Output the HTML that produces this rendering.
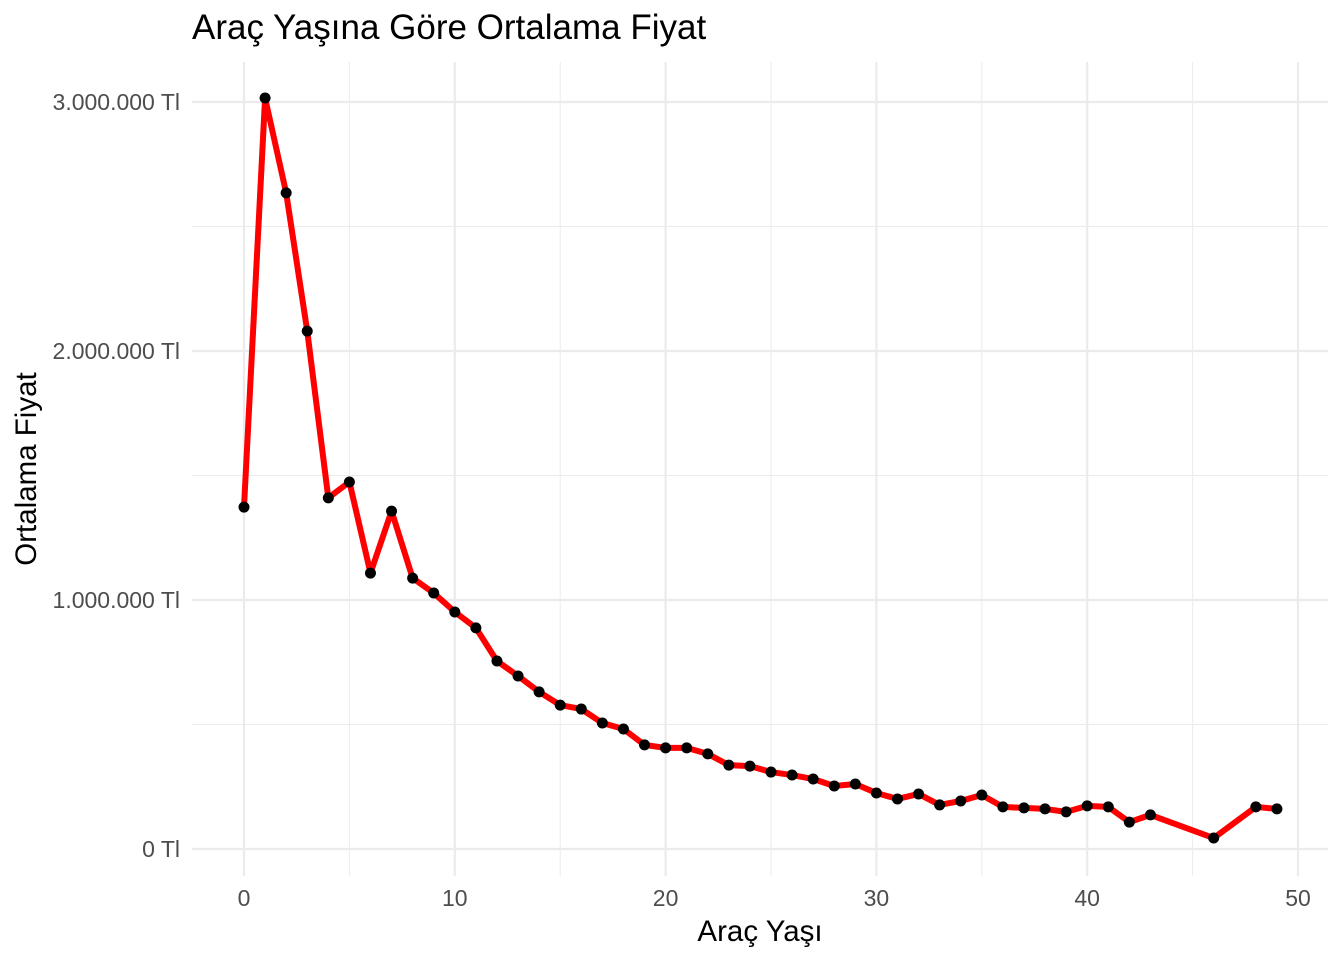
<!DOCTYPE html>
<html><head><meta charset="utf-8"><style>
body{margin:0;background:#fff;}
text{font-family:"Liberation Sans",Arial,sans-serif;}
</style></head><body>
<svg id="chart" width="1344" height="960" xmlns="http://www.w3.org/2000/svg">
<text x="192" y="39" font-size="35" fill="#000">Araç Yaşına Göre Ortalama Fiyat</text>
<g id="grid"></g>
<g id="axes"></g>
<g id="marks"></g>
<text x="760" y="941" font-size="29.5" text-anchor="middle" fill="#000">Araç Yaşı</text>
<text transform="translate(36,469) rotate(-90)" font-size="29.5" text-anchor="middle" fill="#000">Ortalama Fiyat</text>
</svg>
<script>
const ages=[0,1,2,3,4,5,6,7,8,9,10,11,12,13,14,15,16,17,18,19,20,21,22,23,24,25,26,27,28,29,30,31,32,33,34,35,36,37,38,39,40,41,42,43,46,48,49];
const prices=[1373000,3016000,2635000,2080000,1410000,1474000,1108000,1357000,1088000,1028000,952000,888000,755000,695000,631000,578000,562000,506000,482000,418000,406000,406000,382000,337000,333000,309000,297000,281000,253000,261000,225000,201000,221000,177000,193000,217000,169000,165000,161000,149000,173000,169000,108000,137000,44000,169000,161000];
const xTicks=[0,10,20,30,40,50];
const xMinor=[5,15,25,35,45];
const yTicks=[0,1000000,2000000,3000000];
const yTickLabels=["0 Tl","1.000.000 Tl","2.000.000 Tl","3.000.000 Tl"];
const yMinor=[500000,1500000,2500000];
const NS="http://www.w3.org/2000/svg";
const X=v=>244+v*(1298-244)/50;
const Y=v=>849-v*(849-102)/3000000;
const L=192,R=1328,T=62,B=876;
function mk(tag,attrs,parent){const e=document.createElementNS(NS,tag);for(const k in attrs)e.setAttribute(k,attrs[k]);parent.appendChild(e);return e;}
const grid=document.getElementById('grid'),axes=document.getElementById('axes'),marks=document.getElementById('marks');
xMinor.forEach(v=>{const l=mk('line',{x1:X(v),x2:X(v),y1:T,y2:B,stroke:'#ebebeb','stroke-width':1},grid);

});
yMinor.forEach(v=>{const l=mk('line',{x1:L,x2:R,y1:Y(v),y2:Y(v),stroke:'#ebebeb','stroke-width':1},grid);

});
xTicks.forEach(v=>{const l=mk('line',{x1:X(v),x2:X(v),y1:T,y2:B,stroke:'#ebebeb','stroke-width':2.2},grid);


const t=mk('text',{x:X(v),y:906,'font-size':23,'text-anchor':'middle',fill:'#4d4d4d'},axes);t.textContent=v;

});
yTicks.forEach((v,i)=>{const l=mk('line',{x1:L,x2:R,y1:Y(v),y2:Y(v),stroke:'#ebebeb','stroke-width':2.2},grid);


const t=mk('text',{x:180,y:Y(v)+8,'font-size':23,'text-anchor':'end',fill:'#4d4d4d'},axes);t.textContent=yTickLabels[i];

});
const pts=ages.map((a,i)=>X(a)+','+Y(prices[i])).join(' ');
const pl=mk('polyline',{points:pts,fill:'none',stroke:'#ff0000','stroke-width':6,'stroke-linejoin':'round'},marks);


ages.forEach((a,i)=>{const c=mk('circle',{cx:X(a),cy:Y(prices[i]),r:5.5,fill:'#000'},marks);

});
</script>
</body></html>
